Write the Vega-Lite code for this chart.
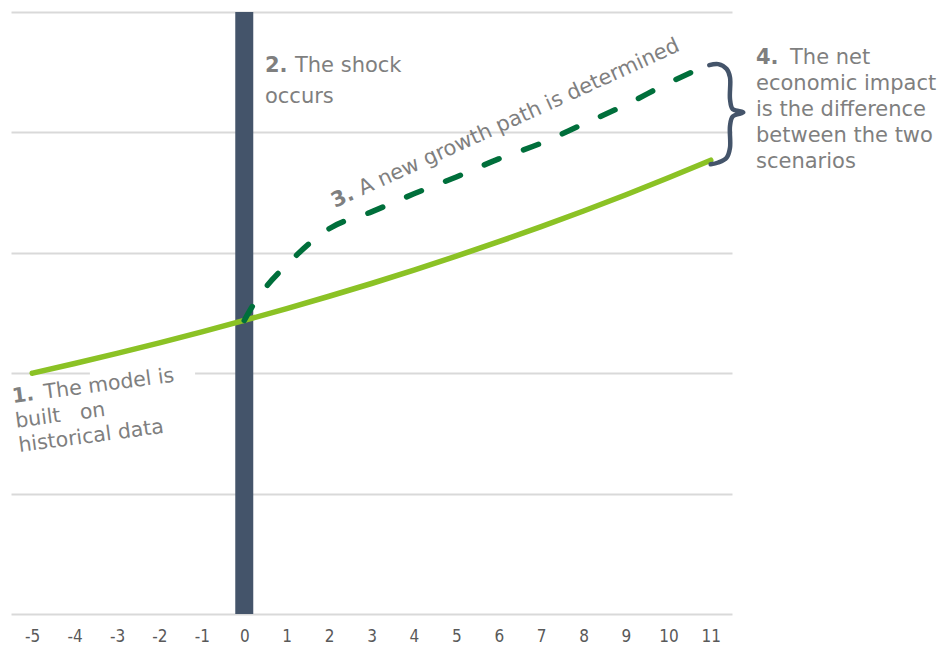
{
  "$schema": "https://vega.github.io/schema/vega-lite/v6.json",
  "width": 721,
  "height": 602,
  "autosize": "none",
  "padding": {"left": 11, "top": 12, "right": 207, "bottom": 34},
  "background": "white",
  "config": {
    "view": {"stroke": null},
    "text": {"font": "DejaVu Sans", "fontSize": 21, "color": "#7f7f7f", "align": "left", "baseline": "alphabetic"}
  },
  "datasets": {
    "single": [{}],
    "baseline": [
      {"year": -5, "value": 2.0},
      {"year": -4, "value": 2.081},
      {"year": -3, "value": 2.165},
      {"year": -2, "value": 2.252},
      {"year": -1, "value": 2.343},
      {"year": 0, "value": 2.438},
      {"year": 1, "value": 2.536},
      {"year": 2, "value": 2.639},
      {"year": 3, "value": 2.745},
      {"year": 4, "value": 2.856},
      {"year": 5, "value": 2.972},
      {"year": 6, "value": 3.092},
      {"year": 7, "value": 3.217},
      {"year": 8, "value": 3.347},
      {"year": 9, "value": 3.482},
      {"year": 10, "value": 3.623},
      {"year": 11, "value": 3.769}
    ],
    "shock": [
      {"year": 0, "value": 2.438},
      {"year": 0.2, "value": 2.56},
      {"year": 0.5, "value": 2.71},
      {"year": 1, "value": 2.9},
      {"year": 2, "value": 3.2},
      {"year": 3, "value": 3.34},
      {"year": 4, "value": 3.49},
      {"year": 5, "value": 3.63},
      {"year": 6, "value": 3.78},
      {"year": 7, "value": 3.91},
      {"year": 8, "value": 4.07},
      {"year": 9, "value": 4.23},
      {"year": 10, "value": 4.41},
      {"year": 11, "value": 4.57}
    ],
    "brace": [
      {"i": 0, "bx": 10.964, "by": 4.559},
      {"i": 1, "bx": 11.177, "by": 4.567},
      {"i": 2, "bx": 11.375, "by": 4.526},
      {"i": 3, "bx": 11.453, "by": 4.457},
      {"i": 4, "bx": 11.453, "by": 4.276},
      {"i": 5, "bx": 11.516, "by": 4.193},
      {"i": 6, "bx": 11.766, "by": 4.166},
      {"i": 7, "bx": 11.516, "by": 4.132},
      {"i": 8, "bx": 11.453, "by": 4.054},
      {"i": 9, "bx": 11.453, "by": 3.874},
      {"i": 10, "bx": 11.375, "by": 3.791},
      {"i": 11, "bx": 11.177, "by": 3.75},
      {"i": 12, "bx": 10.997, "by": 3.735}
    ]
  },
  "layer": [
    {
      "data": {"name": "single"},
      "mark": {"type": "rule", "color": "#44546a", "strokeWidth": 18, "strokeCap": "butt"},
      "encoding": {
        "x": {
          "datum": 0,
          "type": "quantitative",
          "scale": {"domain": [-5.5, 11.5], "nice": false, "zero": false},
          "axis": {
            "values": [-5, -4, -3, -2, -1, 0, 1, 2, 3, 4, 5, 6, 7, 8, 9, 10, 11],
            "title": null,
            "grid": false,
            "domain": false,
            "ticks": false,
            "tickSize": 0,
            "labelPadding": 22,
            "labelBaseline": "middle",
            "labelFont": "DejaVu Sans Condensed, DejaVu Sans",
            "labelFontSize": 17,
            "labelColor": "#595959",
            "labelExpr": "datum.value + ''"
          }
        },
        "y": {
          "datum": 0,
          "type": "quantitative",
          "scale": {"domain": [0, 5], "nice": false},
          "axis": {
            "values": [0, 1, 2, 3, 4, 5],
            "title": null,
            "labels": false,
            "ticks": false,
            "domain": false,
            "grid": true,
            "gridColor": "#d9d9d9",
            "gridWidth": 2
          }
        },
        "y2": {"datum": 5}
      }
    },
    {
      "data": {"name": "single"},
      "mark": {"type": "rect", "color": "white"},
      "encoding": {
        "x": {"datum": -3.64, "type": "quantitative"},
        "x2": {"datum": -1.16},
        "y": {"datum": 1.98, "type": "quantitative"},
        "y2": {"datum": 2.02}
      }
    },
    {
      "data": {"name": "baseline"},
      "mark": {"type": "line", "color": "#8bc225", "strokeWidth": 5.5, "strokeCap": "round", "interpolate": "monotone"},
      "encoding": {
        "x": {"field": "year", "type": "quantitative"},
        "y": {"field": "value", "type": "quantitative"}
      }
    },
    {
      "data": {"name": "shock"},
      "mark": {"type": "line", "color": "#006f3b", "strokeWidth": 5.5, "strokeCap": "round", "strokeDash": [16, 26], "interpolate": "monotone"},
      "encoding": {
        "x": {"field": "year", "type": "quantitative"},
        "y": {"field": "value", "type": "quantitative"}
      }
    },
    {
      "data": {"name": "brace"},
      "mark": {"type": "line", "color": "#44546a", "strokeWidth": 4.5, "strokeCap": "round", "strokeJoin": "round", "interpolate": "catmull-rom"},
      "encoding": {
        "x": {"field": "bx", "type": "quantitative"},
        "y": {"field": "by", "type": "quantitative"},
        "order": {"field": "i", "type": "quantitative"}
      }
    },
    {
      "data": {"name": "single"},
      "mark": {"type": "text", "text": "1.", "fontWeight": "bold", "fontSize": 20.5, "angle": -7.5},
      "encoding": {"x": {"datum": -5.454, "type": "quantitative"}, "y": {"datum": 1.753, "type": "quantitative"}}
    },
    {
      "data": {"name": "single"},
      "mark": {"type": "text", "text": "The model is", "fontSize": 20.5, "angle": -7.5, "dx": 32},
      "encoding": {"x": {"datum": -5.454, "type": "quantitative"}, "y": {"datum": 1.753, "type": "quantitative"}}
    },
    {
      "data": {"name": "single"},
      "mark": {"type": "text", "text": ["built\u00a0\u00a0\u00a0on", "historical data"], "fontSize": 20.5, "angle": -7.5, "dy": 25, "lineHeight": 24.5},
      "encoding": {"x": {"datum": -5.454, "type": "quantitative"}, "y": {"datum": 1.753, "type": "quantitative"}}
    },
    {
      "data": {"name": "single"},
      "mark": {"type": "text", "text": "2.", "fontWeight": "bold"},
      "encoding": {"x": {"datum": 0.488, "type": "quantitative"}, "y": {"datum": 4.502, "type": "quantitative"}}
    },
    {
      "data": {"name": "single"},
      "mark": {"type": "text", "text": "The shock", "dx": 30},
      "encoding": {"x": {"datum": 0.488, "type": "quantitative"}, "y": {"datum": 4.502, "type": "quantitative"}}
    },
    {
      "data": {"name": "single"},
      "mark": {"type": "text", "text": "occurs", "dy": 31},
      "encoding": {"x": {"datum": 0.488, "type": "quantitative"}, "y": {"datum": 4.502, "type": "quantitative"}}
    },
    {
      "data": {"name": "single"},
      "mark": {"type": "text", "text": "3.", "fontWeight": "bold", "angle": -24.5},
      "encoding": {"x": {"datum": 2.139, "type": "quantitative"}, "y": {"datum": 3.372, "type": "quantitative"}}
    },
    {
      "data": {"name": "single"},
      "mark": {"type": "text", "text": "A new growth path is determined", "angle": -24.5, "dx": 30},
      "encoding": {"x": {"datum": 2.139, "type": "quantitative"}, "y": {"datum": 3.372, "type": "quantitative"}}
    },
    {
      "data": {"name": "single"},
      "mark": {"type": "text", "text": "4.", "fontWeight": "bold"},
      "encoding": {"x": {"datum": 12.066, "type": "quantitative"}, "y": {"datum": 4.568, "type": "quantitative"}}
    },
    {
      "data": {"name": "single"},
      "mark": {"type": "text", "text": "The net", "dx": 34},
      "encoding": {"x": {"datum": 12.066, "type": "quantitative"}, "y": {"datum": 4.568, "type": "quantitative"}}
    },
    {
      "data": {"name": "single"},
      "mark": {"type": "text", "text": ["economic impact", "is the difference", "between the two", "scenarios"], "dy": 26, "lineHeight": 26},
      "encoding": {"x": {"datum": 12.066, "type": "quantitative"}, "y": {"datum": 4.568, "type": "quantitative"}}
    }
  ]
}
